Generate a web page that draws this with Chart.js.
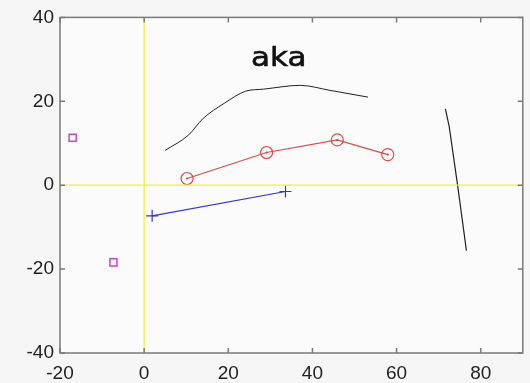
<!DOCTYPE html>
<html>
<head>
<meta charset="utf-8">
<script src="https://cdn.jsdelivr.net/npm/chart.js@4"></script>
<style>
  html, body { margin: 0; padding: 0; background: #f6f6f6; }
  #wrap { width: 530px; height: 383px; }
</style>
</head>
<body>
<div id="wrap"><canvas id="chart"></canvas></div>
<script>
// axis limits and tick labels
const xLimits = [-20, 90];
const yLimits = [-40, 40];
const xTicks = [-20, 0, 20, 40, 60, 80];
const yTicks = [-40, -20, 0, 20, 40];

// upper black curve
const curveX = [5.0, 10.6, 13.9, 19.0, 24.1, 28.4, 37.1, 44.2, 53.2];
const curveY = [8.3, 12.0, 15.8, 19.5, 22.4, 22.9, 23.8, 22.6, 21.0];

// red series with circles
const redX = [10.2, 29.1, 45.9, 57.9];
const redY = [1.6, 7.8, 10.8, 7.3];

// blue series with plus markers
const blueX = [1.9, 33.6];
const blueY = [-7.3, -1.5];

// magenta squares
const squareX = [-17.0, -7.3];
const squareY = [11.3, -18.4];

// right black stroke
const strokeX = [71.6, 72.5, 74.5, 76.6];
const strokeY = [18.2, 14.0, 0.0, -15.6];

const titleText = 'aka';
const titlePos = [32, 30];

const pts = (xs, ys) => xs.map((x, i) => ({ x, y: ys[i] }));

const frame = {
  id: 'frame',
  beforeDraw(chart) {
    const { ctx, chartArea: a } = chart;
    ctx.save();
    ctx.fillStyle = '#fbfbfb';
    ctx.fillRect(a.left, a.top, a.right - a.left, a.bottom - a.top);
    ctx.restore();
  },
  afterDraw(chart) {
    const { ctx, chartArea: a, scales } = chart;
    ctx.save();
    ctx.strokeStyle = '#7a7a7a';
    ctx.lineWidth = 1.5;
    ctx.strokeRect(a.left, a.top, a.right - a.left, a.bottom - a.top);
    ctx.beginPath();
    xTicks.forEach(v => {
      const px = scales.x.getPixelForValue(v);
      ctx.moveTo(px, a.bottom); ctx.lineTo(px, a.bottom - 5);
      ctx.moveTo(px, a.top); ctx.lineTo(px, a.top + 5);
    });
    yTicks.forEach(v => {
      const py = scales.y.getPixelForValue(v);
      ctx.moveTo(a.left, py); ctx.lineTo(a.left + 5, py);
      ctx.moveTo(a.right, py); ctx.lineTo(a.right - 5, py);
    });
    ctx.stroke();

    // title sits inside the axes, a bit wider than the stock font
    ctx.fillStyle = '#111';
    ctx.font = '27px "DejaVu Sans", sans-serif';
    ctx.textAlign = 'center';
    ctx.textBaseline = 'middle';
    ctx.translate(scales.x.getPixelForValue(titlePos[0]), scales.y.getPixelForValue(titlePos[1]));
    ctx.scale(1.15, 1);
    ctx.lineWidth = 0.6;
    ctx.strokeStyle = '#111';
    ctx.fillText(titleText, 0, 0);
    ctx.strokeText(titleText, 0, 0);
    ctx.restore();
  }
};

const tickFont = { family: '"Liberation Sans", Arial, sans-serif', size: 19 };

new Chart(document.getElementById('chart'), {
  type: 'scatter',
  data: {
    datasets: [
      {
        data: [{ x: 0, y: yLimits[0] }, { x: 0, y: yLimits[1] }],
        showLine: true, borderColor: '#f2f040', borderWidth: 1.2, pointRadius: 0
      },
      {
        data: [{ x: xLimits[0], y: 0 }, { x: xLimits[1], y: 0 }],
        showLine: true, borderColor: '#f2f040', borderWidth: 1.2, pointRadius: 0
      },
      {
        data: pts(curveX, curveY),
        showLine: true, borderColor: '#222', borderWidth: 1, pointRadius: 0,
        cubicInterpolationMode: 'monotone'
      },
      {
        data: pts(strokeX, strokeY),
        showLine: true, borderColor: '#222', borderWidth: 1.2, pointRadius: 0
      },
      {
        data: pts(redX, redY),
        showLine: true, borderColor: '#e04848', borderWidth: 1.2,
        pointStyle: 'circle', pointRadius: 6, pointBorderWidth: 1.2,
        pointBackgroundColor: 'rgba(0,0,0,0)', pointBorderColor: '#e04848'
      },
      {
        data: pts(redX, redY),
        showLine: false, pointRadius: 1, pointBorderWidth: 0,
        pointBackgroundColor: '#c03030'
      },
      {
        data: pts(blueX, blueY),
        showLine: true, borderColor: '#3535d0', borderWidth: 1.2,
        pointStyle: 'cross', pointRadius: 6, pointBorderWidth: 1.2,
        pointBorderColor: '#3535d0'
      },
      {
        data: pts(squareX, squareY),
        showLine: false, pointStyle: 'rect', pointRadius: 5, pointBorderWidth: 1.5,
        pointBackgroundColor: 'rgba(0,0,0,0)', pointBorderColor: '#d040d0'
      }
    ]
  },
  options: {
    responsive: true,
    maintainAspectRatio: false,
    animation: false,
    layout: { padding: { left: 0, top: 14, right: 4, bottom: 0 } },
    plugins: { legend: { display: false }, tooltip: { enabled: false } },
    scales: {
      x: {
        type: 'linear', min: xLimits[0], max: xLimits[1],
        afterBuildTicks: s => { s.ticks = xTicks.map(v => ({ value: v })); },
        afterFit: s => { s.height = 30; },
        grid: { display: false, drawTicks: false },
        border: { display: false },
        ticks: { color: '#222', padding: 9, maxRotation: 0, font: tickFont }
      },
      y: {
        type: 'linear', min: yLimits[0], max: yLimits[1],
        afterBuildTicks: s => { s.ticks = yTicks.map(v => ({ value: v })); },
        afterFit: s => { s.width = 60; },
        grid: { display: false, drawTicks: false },
        border: { display: false },
        ticks: { color: '#222', padding: 6, font: tickFont }
      }
    }
  },
  plugins: [frame]
});
</script>
</body>
</html>
